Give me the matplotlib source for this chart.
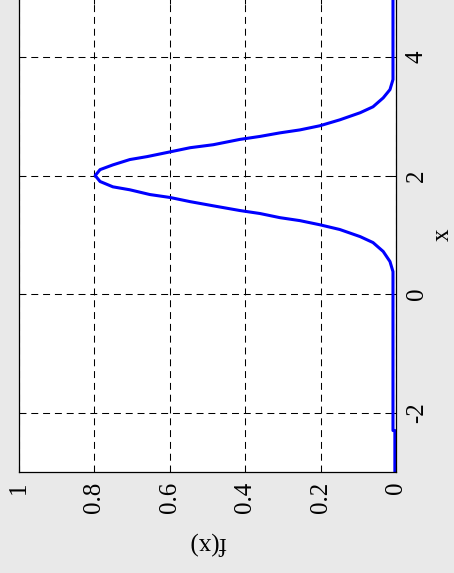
import matplotlib
matplotlib.use("Agg")
import matplotlib.pyplot as plt

plt.rcParams['font.family'] = ['Liberation Serif', 'DejaVu Serif']
plt.rcParams['lines.scale_dashes'] = False

# density curve f(x), sampled along x
x_vals = [-3.0, -2.3, -2.3, 0.38, 0.55, 0.72, 0.87, 0.97, 1.09, 1.17, 1.24,
          1.29, 1.36, 1.41, 1.49, 1.56, 1.63, 1.68, 1.76, 1.81, 1.90, 2.00,
          2.10, 2.18, 2.27, 2.32, 2.40, 2.47, 2.52, 2.61, 2.66, 2.72, 2.77,
          2.84, 2.94, 3.06, 3.16, 3.31, 3.45, 3.62, 5.0]
f_vals = [0.003, 0.003, 0.008, 0.008, 0.016, 0.034, 0.061, 0.095, 0.149,
          0.202, 0.255, 0.308, 0.361, 0.414, 0.485, 0.546, 0.599, 0.653,
          0.706, 0.751, 0.785, 0.798, 0.785, 0.751, 0.706, 0.660, 0.599,
          0.546, 0.485, 0.414, 0.361, 0.308, 0.255, 0.202, 0.149, 0.095,
          0.061, 0.034, 0.016, 0.008, 0.008]

f_ticks = [0, 0.2, 0.4, 0.6, 0.8, 1]
f_labels = ['0', '0.2', '0.4', '0.6', '0.8', '1']
x_ticks = [-2, 0, 2, 4]
x_labels = ['-2', '0', '2', '4']


def main():
    fig = plt.figure(figsize=(4.54, 5.73), dpi=100, facecolor='#e9e9e9')
    # figure is drawn turned a quarter turn: x runs up, f(x) runs right-to-left
    ax = fig.add_axes([19 / 454, 101 / 573, 377 / 454, 474.3 / 573])
    ax.set_facecolor('white')

    ax.plot(f_vals, x_vals, color='#0000ff', linewidth=2.2)

    ax.set_xlim(1, 0)
    ax.set_ylim(-3, 5)

    ax.set_xticks(f_ticks)
    ax.set_xticklabels(f_labels, rotation=90, fontsize=18)
    ax.set_yticks(x_ticks)
    ax.set_yticklabels(x_labels, rotation=90, fontsize=18, va='center')

    ax.yaxis.tick_right()
    ax.tick_params(axis='both', direction='in', length=4, width=0.75,
                   top=True, bottom=True, left=True, right=True, pad=7)
    ax.tick_params(axis='y', labelleft=False, labelright=True)

    ax.grid(True, color='black', linewidth=0.75, dashes=(5, 3.5))
    for sp in ax.spines.values():
        sp.set_linewidth(0.9)
        sp.set_color('black')

    ax.set_xlabel('f(x)', fontsize=18, rotation=180, labelpad=13)
    ax.yaxis.set_label_position('right')
    ax.set_ylabel('x', fontsize=18, rotation=90, labelpad=3)

    fig.savefig('out.png', dpi=100, facecolor=fig.get_facecolor())


if __name__ == "__main__":
    main()
